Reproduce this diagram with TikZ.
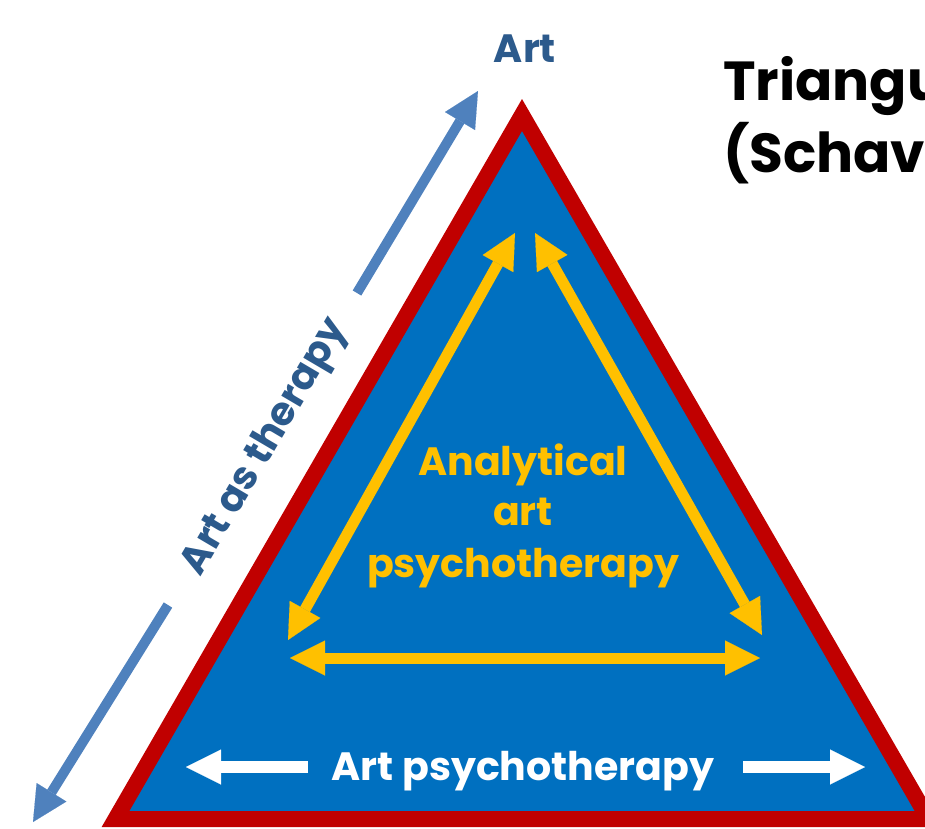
\documentclass[tikz,border=0pt]{standalone}
\usepackage{fontspec}
\usetikzlibrary{arrows.meta}
\newfontfamily\titlefont{Poppins}
\newfontfamily\gothic{Poppins}
\definecolor{triblue}{HTML}{0070C0}
\definecolor{trired}{HTML}{C00000}
\definecolor{artyellow}{HTML}{FFC000}
\definecolor{sideblue}{HTML}{4F81BD}
\definecolor{labelblue}{HTML}{2C5A8C}
\tikzset{
  headtip/.tip={Triangle[length=35pt,width=35pt,line width=0.1pt]},
  triangle body/.style={fill=triblue, draw=trired, line width=16pt, line join=miter},
  side arrow/.style={draw=sideblue, line width=10pt, -headtip},
  inner link/.style={draw=artyellow, line width=11pt, headtip-headtip},
  base arrow/.style={draw=white, line width=12pt, -headtip},
  label/.style={inner sep=0pt, font=\gothic\bfseries\fontsize{39.5}{48}\selectfont},
  title/.style={inner sep=0pt, anchor=base west, font=\titlefont\bfseries\fontsize{55}{66}\selectfont},
}
\begin{document}
\begin{tikzpicture}[x=1pt,y=-1pt]
\useasboundingbox (0,0) rectangle (925,828);
\clip (0,0) rectangle (925,828);

% outer triangle
\coordinate (apex) at (522,115);
\coordinate (bl) at (115.5,819);
\coordinate (br) at (928.5,819);
\draw[triangle body] (apex) -- (bl) -- (br) -- cycle;

% "Art as therapy" arrows along the left side
\coordinate (upTail) at (357,293);
\coordinate (upTip) at (478,91);
\coordinate (downTail) at (168,605);
\coordinate (downTip) at (33,822);
\draw[side arrow] (upTail) -- (upTip);
\draw[side arrow] (downTail) -- (downTip);

% inner yellow triangle of double arrows
\coordinate (yTopL) at (515,233);
\coordinate (yTopR) at (535,233);
\coordinate (yLeftD) at (288,640);
\coordinate (yRightD) at (762,635);
\coordinate (yLeftH) at (290,658);
\coordinate (yRightH) at (760,658);
\draw[inner link] (yLeftD) -- (yTopL);
\draw[inner link] (yRightD) -- (yTopR);
\draw[inner link] (yLeftH) -- (yRightH);

% white arrows along the base
\coordinate (wLTail) at (308,767);
\coordinate (wLTip) at (186,767);
\coordinate (wRTail) at (743,767);
\coordinate (wRTip) at (865,767);
\draw[base arrow] (wLTail) -- (wLTip);
\draw[base arrow] (wRTail) -- (wRTip);

% labels
\node[label, text=labelblue, anchor=base] (art) at (525,62) {Art};
\node[label, text=labelblue, anchor=base, rotate=59.5] (artTherapy) at (274,452) {Art as therapy};
\node[label, text=artyellow, anchor=base] (an1) at (523,475) {Analytical};
\node[label, text=artyellow, anchor=base] (an2) at (523,525) {art};
\node[label, text=artyellow, anchor=base] (an3) at (523,577) {psychotherapy};
\node[label, text=white, anchor=base] (artPsy) at (523,780) {Art psychotherapy};

% title
\node[title] (t1) at (723,100) {Triangular};
\node[title] (t2) at (723,172) {(Schaverien};
\end{tikzpicture}
\end{document}
